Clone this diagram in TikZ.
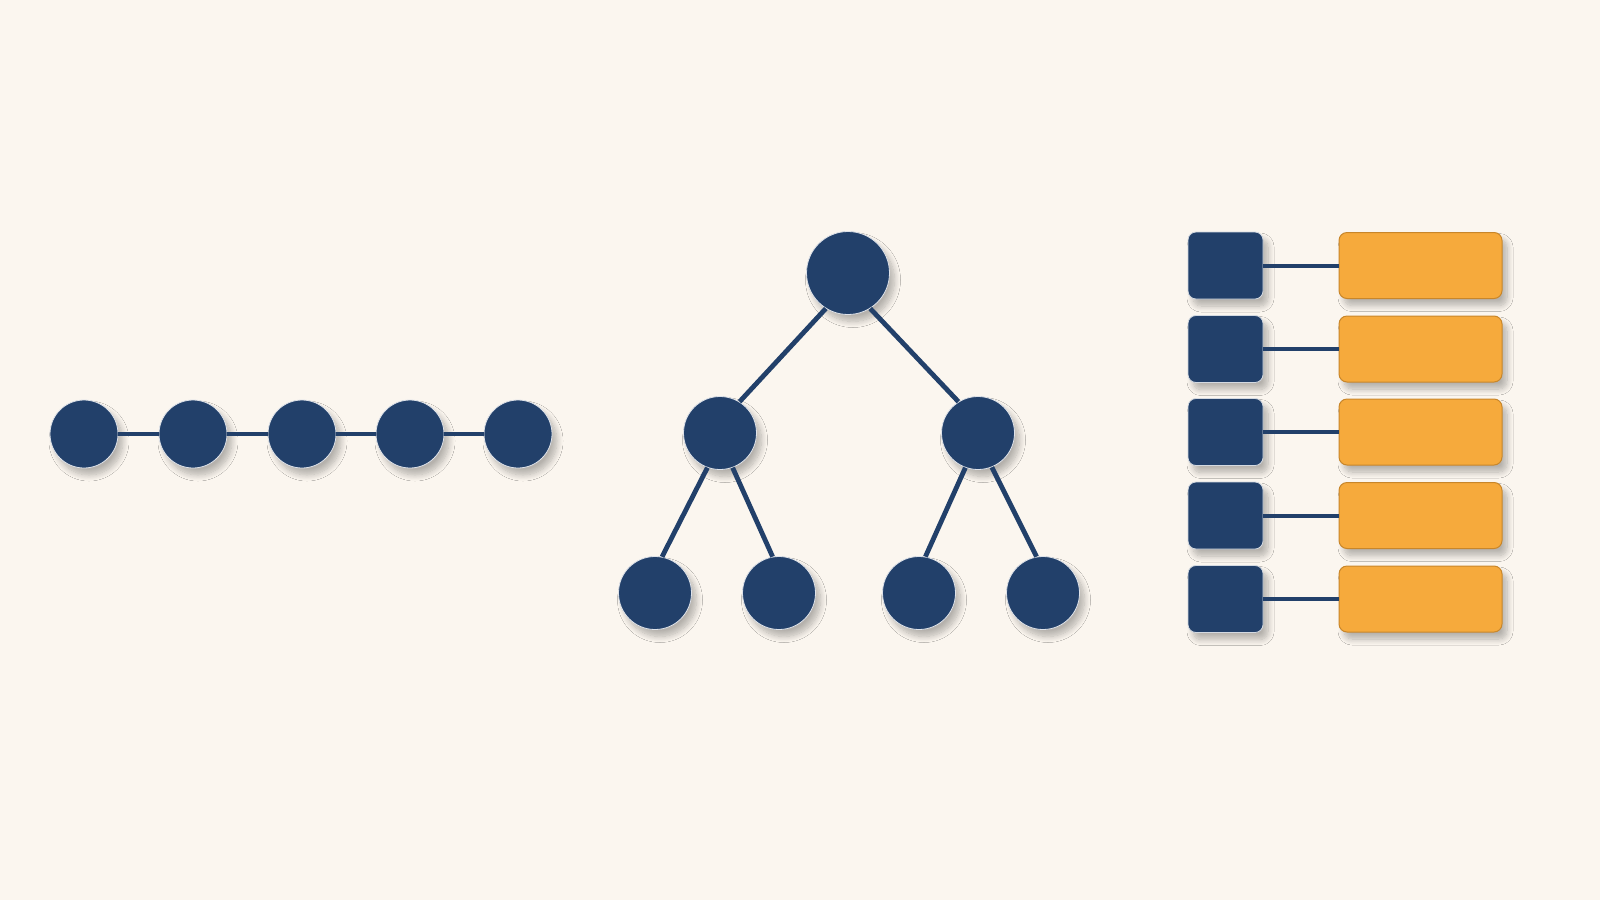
\documentclass[tikz,border=0pt]{standalone}
\usetikzlibrary{shadows,shadows.blur}
\definecolor{bgc}{HTML}{FBF6EF}
\definecolor{navy}{HTML}{22406A}
\definecolor{amber}{HTML}{F6AA3C}
\definecolor{amberdk}{HTML}{C8862A}
\begin{document}
\begin{tikzpicture}[x=0.5pt,y=-0.5pt,
  sh/.style={blur shadow={shadow xshift=2.5pt,shadow yshift=-3.5pt,shadow blur steps=10,shadow blur radius=3pt,shadow opacity=28}},
  dot/.style={circle,fill=navy,draw=white!85!navy,line width=0.4pt,inner sep=0pt,minimum size=34pt,sh},
  tdot/.style={dot,minimum size=36.5pt},
  rootdot/.style={dot,minimum size=41.5pt},
  sq/.style={rectangle,rounded corners=4pt,fill=navy,draw=white!80!navy,line width=0.4pt,inner sep=0pt,minimum width=37.5pt,minimum height=33.5pt,sh},
  bar/.style={rectangle,rounded corners=4pt,fill=amber,draw=amberdk,line width=0.5pt,inner sep=0pt,minimum width=81.5pt,minimum height=33pt,sh},
  link/.style={draw=navy,line width=2pt},
  tlink/.style={draw=navy,line width=2.4pt}]
\fill[bgc] (0,0) rectangle (1600,900);
\useasboundingbox (0,0) rectangle (1600,900);
% chain
\node[dot] (c1) at (84,434) {};
\node[dot] (c2) at (193,434) {};
\node[dot] (c3) at (302,434) {};
\node[dot] (c4) at (410,434) {};
\node[dot] (c5) at (518,434) {};
\draw[link] (c1) -- (c2);
\draw[link] (c2) -- (c3);
\draw[link] (c3) -- (c4);
\draw[link] (c4) -- (c5);
% tree
\node[rootdot] (r) at (848,273) {};
\node[tdot] (l) at (720,433) {};
\node[tdot] (rr) at (978,433) {};
\node[tdot] (ll) at (655,593) {};
\node[tdot] (lr) at (779,593) {};
\node[tdot] (rl) at (919,593) {};
\node[tdot] (rrr) at (1043,593) {};
\draw[tlink] (r.238) -- (l.58);
\draw[tlink] (r.302) -- (rr.122);
\draw[tlink] (l.250) -- (ll.79);
\draw[tlink] (l.290) -- (lr.100);
\draw[tlink] (rr.250) -- (rl.80);
\draw[tlink] (rr.292) -- (rrr.100);
% list
\foreach \i/\y in {1/265.5,2/349,3/432,4/515.5,5/599}{
  \node[sq] (s\i) at (1225.5,\y) {};
  \node[bar] (b\i) at (1420.5,\y) {};
  \draw[link] (s\i) -- (b\i);
}
\end{tikzpicture}
\end{document}
